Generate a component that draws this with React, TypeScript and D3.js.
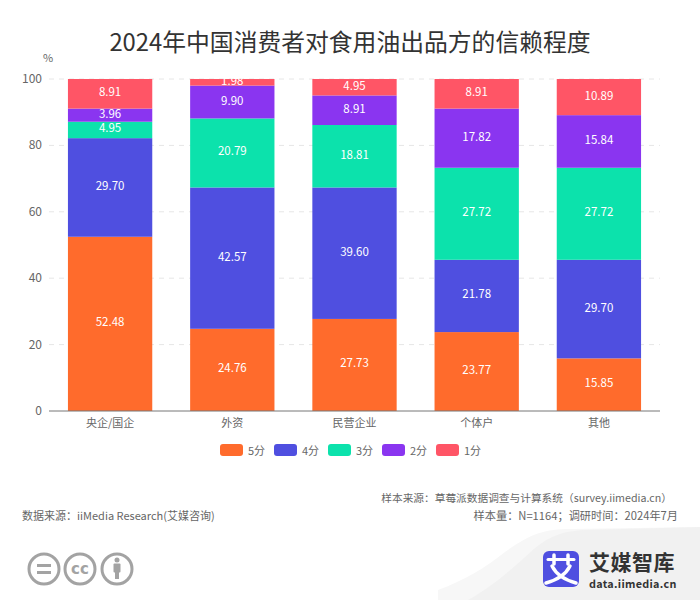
import * as d3 from 'd3';

const categories = ['央企/国企', '外资', '民营企业', '个体户', '其他'];
const seriesNames = ['5分', '4分', '3分', '2分', '1分'];
const score5 = [52.48, 24.76, 27.73, 23.77, 15.85];
const score4 = [29.7, 42.57, 39.6, 21.78, 29.7];
const score3 = [4.95, 20.79, 18.81, 27.72, 27.72];
const score2 = [3.96, 9.9, 8.91, 17.82, 15.84];
const score1 = [8.91, 1.98, 4.95, 8.91, 10.89];
const allSeries = [score5, score4, score3, score2, score1];
const colors = ['#ff6b2c', '#4f4fe0', '#0ce2ac', '#8a35f0', '#ff5566'];
const yTicks = [0, 20, 40, 60, 80, 100];

const font = "'Noto Sans CJK SC', 'Noto Sans', sans-serif";
const textColor = '#666';

const margin = { top: 79, right: 40, bottom: 189, left: 49 };
const width = 700;
const height = 600;

export default function App() {
  const x = d3
    .scaleBand<string>()
    .domain(categories)
    .range([margin.left, width - margin.right])
    .paddingInner(0.31)
    .paddingOuter(0.155);
  const y = d3
    .scaleLinear()
    .domain([0, 100])
    .range([height - margin.bottom, margin.top]);

  // Cumulative stack for each category
  const rows = categories.map((c, i) => {
    const row: Record<string, number | string> = { category: c };
    seriesNames.forEach((s, j) => {
      row[s] = allSeries[j][i];
    });
    return row;
  });
  const stacked = d3.stack<Record<string, number | string>>().keys(seriesNames)(rows);

  return (
    <svg
      width={width}
      height={height}
      style={{ position: 'absolute', left: 0, top: 0, background: '#fff', fontFamily: font }}
    >
      <text x={350} y={51} textAnchor="middle" fontSize={23.8} fill="#333">
        2024年中国消费者对食用油出品方的信赖程度
      </text>

      <text x={48} y={62} textAnchor="middle" fontSize={11} fill={textColor}>
        %
      </text>

      {/* Grid and y axis */}
      {yTicks.map((t) => (
        <g key={t}>
          {t > 0 && (
            <line
              x1={margin.left}
              x2={width - margin.right}
              y1={y(t)}
              y2={y(t)}
              stroke="#e6e6e6"
              strokeDasharray="5 5"
            />
          )}
          <text x={42} y={y(t) + 4} textAnchor="end" fontSize={12} fill={textColor}>
            {t}
          </text>
        </g>
      ))}

      {/* Bars */}
      {stacked.map((layer, j) => (
        <g key={layer.key} fill={colors[j]}>
          {layer.map((d, i) => (
            <rect
              key={categories[i]}
              x={x(categories[i])}
              y={y(d[1])}
              width={x.bandwidth()}
              height={y(d[0]) - y(d[1])}
            />
          ))}
        </g>
      ))}
      {stacked.map((layer, j) => (
        <g key={layer.key} textAnchor="middle" fontSize={11.5} fill="#fff">
          {layer.map((d, i) => (
            <text
              key={categories[i]}
              x={x(categories[i])! + x.bandwidth() / 2}
              y={y((d[0] + d[1]) / 2) + 2.5}
            >
              {allSeries[j][i].toFixed(2)}
            </text>
          ))}
        </g>
      ))}

      {/* X axis */}
      <line
        x1={margin.left}
        x2={width - margin.right}
        y1={y(0)}
        y2={y(0)}
        stroke="#777"
      />
      {categories.map((c) => (
        <text
          key={c}
          x={x(c)! + x.bandwidth() / 2}
          y={427}
          textAnchor="middle"
          fontSize={11}
          fill={textColor}
        >
          {c}
        </text>
      ))}

      {/* Legend */}
      {seriesNames.map((s, i) => (
        <g key={s} transform={`translate(${220 + i * 54},444)`}>
          <rect width={23} height={12} rx={3} fill={colors[i]} />
          <text x={28} y={10.5} fontSize={11} fill={textColor}>
            {s}
          </text>
        </g>
      ))}

      {/* Source notes */}
      <g fontSize={11} fill={textColor}>
        <text x={672} y={502} textAnchor="end" fontSize={10.7}>
          样本来源：草莓派数据调查与计算系统（survey.iimedia.cn）
        </text>
        <text x={22} y={520}>
          数据来源：iiMedia Research(艾媒咨询)
        </text>
        <text x={678} y={520} textAnchor="end" fontSize={11.2}>
          样本量：N=1164；调研时间：2024年7月
        </text>
      </g>

      {/* Grey corner behind logo */}
      <path d="M700 527 L570 529 C545 529 530 534 505 552 C485 568 465 580 438 590 L438 600 L700 600 Z" fill="#f7f7f7" />
      <path d="M700 527 L585 530 C560 531 548 538 535 548 C515 566 495 585 468 600 L700 600 Z" fill="#f1f1f1" />

      {/* Licence icons */}
      <g fill="none" stroke="#a3a3a3" strokeWidth={3}>
        <circle cx={44} cy={569} r={15} />
        <circle cx={80} cy={569} r={15} />
        <circle cx={117} cy={569} r={15} />
        <path d="M37 565.5H51M37 572.5H51" />
      </g>
      <text x={80} y={574} textAnchor="middle" fontSize={15} fontWeight={700} fill="#a3a3a3" fontFamily="'DejaVu Sans', sans-serif">
        cc
      </text>
      <g fill="#a3a3a3">
        <circle cx={117} cy={560} r={2.5} />
        <rect x={113.5} y={563.5} width={7} height={9} rx={1} />
        <rect x={115} y={572} width={4} height={7} />
      </g>

      {/* Logo */}
      <rect x={543} y={551} width={36} height={36} rx={6} fill="#4f4fe0" />
      <g fill="none" stroke="#fff" strokeLinecap="round">
        <path d="M548 559.5H574" strokeWidth={3} />
        <path d="M554 555V564M568 555V564" strokeWidth={3.5} />
        <path d="M552 566C556 574 565 580 576 583" strokeWidth={3.5} />
        <path d="M570 566C566 574 557 580 546 583" strokeWidth={3.5} />
      </g>
      <text x={589} y={569.5} fontSize={21} fontWeight={700} fill="#333" letterSpacing={0.5}>
        艾媒智库
      </text>
      <text x={589} y={588} fontSize={10.8} fontWeight={700} fill="#333" letterSpacing={0.3}>
        data.iimedia.cn
      </text>
    </svg>
  );
}
